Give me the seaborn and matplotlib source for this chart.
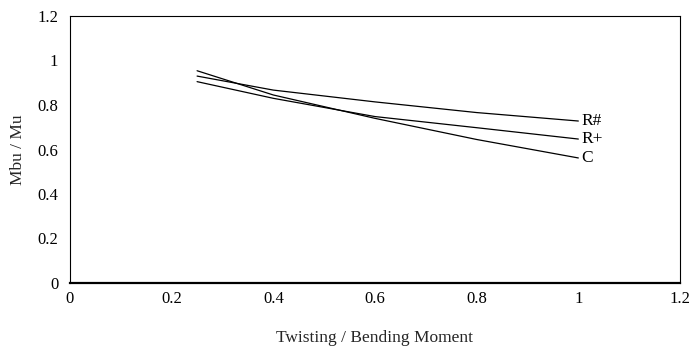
import matplotlib
matplotlib.use("Agg")
import matplotlib.pyplot as plt
import seaborn as sns
import pandas as pd

# Twisting-to-bending moment ratio and reduced capacity ratios
ratio = [0.25, 0.4, 0.6, 0.8, 1.0]
r_hash = [0.93, 0.867, 0.814, 0.766, 0.728]
r_plus = [0.905, 0.83, 0.748, 0.698, 0.647]
c_vals = [0.954, 0.845, 0.74, 0.645, 0.562]
series_names = ["R#", "R+", "C"]

x_ticks = [0, 0.2, 0.4, 0.6, 0.8, 1, 1.2]
y_ticks = [0, 0.2, 0.4, 0.6, 0.8, 1, 1.2]

frames = []
for name, vals in zip(series_names, [r_hash, r_plus, c_vals]):
    frames.append(pd.DataFrame({"ratio": ratio, "value": vals, "series": name}))
df = pd.concat(frames, ignore_index=True)

sns.set_style("white")
plt.rcParams["font.family"] = ["Liberation Serif", "DejaVu Serif"]

fig = plt.figure(figsize=(6.91, 3.49), dpi=100)
ax = fig.add_axes([70 / 691, 1 - 283 / 349, 610 / 691, 267 / 349])

sns.lineplot(data=df, x="ratio", y="value", hue="series", hue_order=series_names,
             palette=["black"] * 3, linewidth=0.9, legend=False, ax=ax,
             estimator=None, sort=False)

# Series names at the end of each curve
for name, vals in zip(series_names, [r_hash, r_plus, c_vals]):
    ax.annotate(name, xy=(ratio[-1], vals[-1]), xytext=(2, 0),
                textcoords="offset points", va="center", ha="left",
                fontsize=12.5, color="black")

ax.set_xlim(0, 1.2)
ax.set_ylim(0, 1.2)
ax.set_xticks(x_ticks)
ax.set_yticks(y_ticks)
ax.set_xticklabels([f"{t:g}" for t in x_ticks])
ax.set_yticklabels([f"{t:g}" for t in y_ticks])
ax.tick_params(axis="both", direction="out", length=3.5, width=0.8,
               labelsize=12, colors="black")
ax.tick_params(axis="x", pad=2.5)
ax.tick_params(axis="y", pad=5)

for side in ["top", "right", "left"]:
    ax.spines[side].set_visible(True)
    ax.spines[side].set_color("black")
    ax.spines[side].set_linewidth(0.8)
ax.spines["bottom"].set_color("black")
ax.spines["bottom"].set_linewidth(1.6)

ax.set_xlabel("Twisting / Bending Moment", fontsize=12.5, labelpad=16)
ax.set_ylabel("Mbu / Mu", fontsize=12.5, labelpad=8)
ax.grid(False)

fig.savefig("out.png", dpi=100)
